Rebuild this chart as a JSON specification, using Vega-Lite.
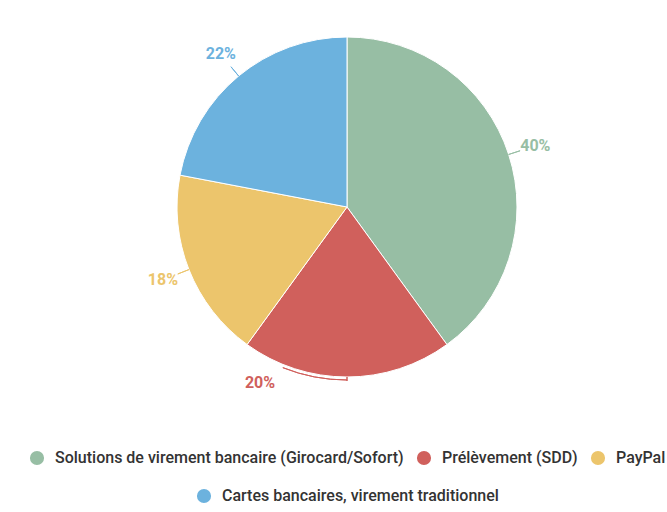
{
  "$schema": "https://vega.github.io/schema/vega-lite/v6.json",
  "width": 667,
  "height": 512,
  "autosize": {"type": "fit", "contains": "padding"},
  "padding": {"left": 27, "top": 5, "right": 0, "bottom": 8},
  "background": "white",
  "config": {
    "view": {"stroke": null},
    "legend": {"layout": {"bottom": {"anchor": "middle", "direction": "vertical", "center": true, "margin": 22}}}
  },
  "data": {
    "values": [
      {"category": "Solutions de virement bancaire (Girocard/Sofort)", "value": 40, "order": 1},
      {"category": "Prélèvement (SDD)", "value": 20, "order": 2},
      {"category": "PayPal", "value": 18, "order": 3},
      {"category": "Cartes bancaires, virement traditionnel", "value": 22, "order": 4}
    ]
  },
  "transform": [
    {"window": [{"op": "sum", "field": "value", "as": "cum"}], "sort": [{"field": "order"}]},
    {"calculate": "datum.cum - datum.value", "as": "start"},
    {"calculate": "datum.cum - datum.value / 2", "as": "mid"},
    {"calculate": "datum.value + '%'", "as": "label"}
  ],
  "layer": [
    {
      "mark": {"type": "arc", "outerRadius": 170, "stroke": "white", "strokeWidth": 1},
      "encoding": {
        "theta": {"field": "start", "type": "quantitative", "stack": null, "scale": {"domain": [0, 100]}},
        "theta2": {"field": "cum"},
        "fill": {
          "field": "category",
          "type": "nominal",
          "scale": {
            "domain": ["Solutions de virement bancaire (Girocard/Sofort)", "Prélèvement (SDD)", "PayPal", "Cartes bancaires, virement traditionnel"],
            "range": ["#97bea4", "#d0605c", "#ecc56c", "#6cb2de"]
          },
          "legend": {
            "orient": "bottom",
            "direction": "horizontal",
            "values": ["Solutions de virement bancaire (Girocard/Sofort)", "Prélèvement (SDD)", "PayPal"],
            "title": null,
            "symbolType": "circle",
            "symbolSize": 200,
            "symbolStrokeWidth": 0,
            "symbolOpacity": 1,
            "labelFont": "Roboto",
            "labelFontSize": 16,
            "labelFontWeight": 500,
            "labelColor": "#333333",
            "labelLimit": 0,
            "labelOffset": 10,
            "columnPadding": 12,
            "offset": 41
          }
        }
      }
    },
    {
      "transform": [{"filter": "datum.category != 'Prélèvement (SDD)'"}],
      "mark": {"type": "arc", "filled": false, "radius": 182, "radius2": 170, "strokeWidth": 1},
      "encoding": {
        "theta": {"field": "mid", "type": "quantitative", "stack": null},
        "theta2": {"field": "mid"},
        "stroke": {
          "field": "category",
          "type": "nominal",
          "scale": {
            "domain": ["Cartes bancaires, virement traditionnel", "Solutions de virement bancaire (Girocard/Sofort)", "Prélèvement (SDD)", "PayPal"],
            "range": ["#6cb2de", "#97bea4", "#d0605c", "#ecc56c"]
          },
          "legend": {
            "orient": "bottom",
            "direction": "horizontal",
            "values": ["Cartes bancaires, virement traditionnel"],
            "title": null,
            "symbolType": "circle",
            "symbolSize": 200,
            "symbolStrokeWidth": 0,
            "symbolFillColor": "#6cb2de",
            "symbolOpacity": 1,
            "labelFont": "Roboto",
            "labelFontSize": 16,
            "labelFontWeight": 500,
            "labelColor": "#333333",
            "labelLimit": 0,
            "labelOffset": 10
          }
        }
      }
    },
    {
      "transform": [{"filter": "datum.category == 'Prélèvement (SDD)'"}],
      "mark": {"type": "arc", "filled": false, "radius": 173, "radius2": 173, "theta2Offset": 0.38, "strokeWidth": 1},
      "encoding": {
        "theta": {"field": "mid", "type": "quantitative", "stack": null},
        "theta2": {"field": "mid"},
        "stroke": {"field": "category", "type": "nominal"}
      }
    },
    {
      "transform": [{"filter": "datum.category == 'Prélèvement (SDD)'"}],
      "mark": {"type": "arc", "filled": false, "radius": 174, "radius2": 170, "strokeWidth": 1},
      "encoding": {
        "theta": {"field": "mid", "type": "quantitative", "stack": null},
        "theta2": {"field": "mid"},
        "stroke": {"field": "category", "type": "nominal"}
      }
    },
    {
      "transform": [{"filter": "datum.category != 'Prélèvement (SDD)'"}],
      "mark": {"type": "text", "radius": 198, "font": "Roboto", "fontSize": 16, "fontWeight": "bold"},
      "encoding": {
        "theta": {"field": "mid", "type": "quantitative", "stack": null},
        "text": {"field": "label"},
        "fill": {"field": "category", "type": "nominal"}
      }
    },
    {
      "transform": [{"filter": "datum.category == 'Prélèvement (SDD)'"}],
      "mark": {"type": "text", "radius": 196, "dx": -87, "dy": -20, "font": "Roboto", "fontSize": 16, "fontWeight": "bold"},
      "encoding": {
        "theta": {"field": "mid", "type": "quantitative", "stack": null},
        "text": {"field": "label"},
        "fill": {"field": "category", "type": "nominal"}
      }
    }
  ]
}
